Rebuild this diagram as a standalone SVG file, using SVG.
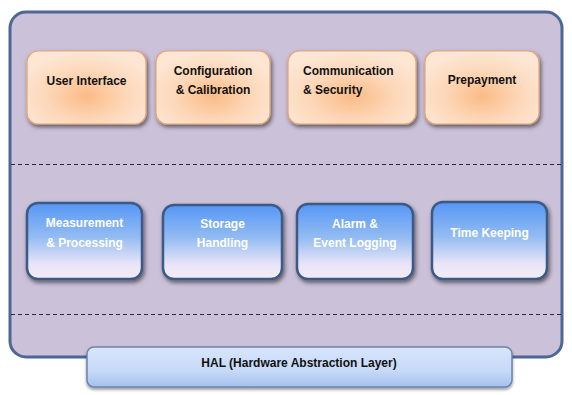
<svg xmlns="http://www.w3.org/2000/svg" width="572" height="395" viewBox="0 0 572 395">
<defs>
<radialGradient id="gOrange" cx="0.5" cy="0.62" r="0.6" fx="0.5" fy="0.62">
<stop offset="0" stop-color="#fbbb86"/>
<stop offset="0.55" stop-color="#fdd7b8"/>
<stop offset="1" stop-color="#fde6d3"/>
</radialGradient>
<linearGradient id="gBlue" x1="0" y1="0" x2="0" y2="1">
<stop offset="0" stop-color="#5596f5"/>
<stop offset="0.45" stop-color="#94bcf2"/>
<stop offset="0.8" stop-color="#e8e4f7"/>
<stop offset="1" stop-color="#f4ecf8"/>
</linearGradient>
<linearGradient id="gHal" x1="0" y1="0" x2="0" y2="1">
<stop offset="0" stop-color="#d8e6fc"/>
<stop offset="0.6" stop-color="#c6d9f8"/>
<stop offset="1" stop-color="#a6c1ee"/>
</linearGradient>
<filter id="shadow" x="-20%" y="-20%" width="140%" height="150%">
<feDropShadow dx="1.5" dy="2.5" stdDeviation="2" flood-color="#000" flood-opacity="0.55"/>
</filter>
<filter id="shadowS" x="-10%" y="-30%" width="120%" height="170%">
<feDropShadow dx="0" dy="2" stdDeviation="1.5" flood-color="#000" flood-opacity="0.4"/>
</filter>
</defs>
<style>
.orange{fill:url(#gOrange);stroke:#e4a477;stroke-width:1.2;filter:url(#shadow)}
.blue{fill:url(#gBlue);stroke:#3d5a86;stroke-width:2.5;filter:url(#shadow)}
.t{font-family:"Liberation Sans",Arial,sans-serif;font-size:12px;font-weight:bold;text-anchor:middle}
.dark{fill:#111}
.white{fill:#fff}
.dash{stroke:#2a2a2a;stroke-width:1;stroke-dasharray:4 3;fill:none}
</style>
<g id="container">
<rect x="10" y="12" width="552" height="345" rx="16" fill="#cbc1d9" stroke="#4d6795" stroke-width="3"/>
</g>
<g id="separators">
<line class="dash" x1="11" y1="164.5" x2="561" y2="164.5"/>
<line class="dash" x1="11" y1="314.5" x2="561" y2="314.5"/>
</g>
<g id="user-interface">
<rect class="orange" x="27" y="51" width="119" height="73" rx="11"/>
<text class="t dark" x="86.5" y="85">User Interface</text>
</g>
<g id="configuration-calibration">
<rect class="orange" x="156" y="51" width="114" height="73" rx="11"/>
<text class="t dark" x="213" y="75">Configuration</text>
<text class="t dark" x="213" y="94">&amp; Calibration</text>
</g>
<g id="communication-security">
<rect class="orange" x="288" y="51" width="128" height="73" rx="11"/>
<text class="t dark" x="303" y="75" style="text-anchor:start">Communication</text>
<text class="t dark" x="303" y="94" style="text-anchor:start">&amp; Security</text>
</g>
<g id="prepayment">
<rect class="orange" x="425" y="51" width="114" height="73" rx="11"/>
<text class="t dark" x="482" y="84">Prepayment</text>
</g>
<g id="measurement-processing">
<rect class="blue" x="27" y="203" width="115" height="76" rx="11"/>
<text class="t white" x="84.5" y="227">Measurement</text>
<text class="t white" x="84.5" y="247">&amp; Processing</text>
</g>
<g id="storage-handling">
<rect class="blue" x="163" y="205" width="119" height="74" rx="11"/>
<text class="t white" x="222.5" y="228">Storage</text>
<text class="t white" x="222.5" y="247">Handling</text>
</g>
<g id="alarm-event-logging">
<rect class="blue" x="297" y="204" width="116" height="75" rx="11"/>
<text class="t white" x="355" y="228">Alarm &amp;</text>
<text class="t white" x="355" y="247">Event Logging</text>
</g>
<g id="time-keeping">
<rect class="blue" x="432" y="202" width="115" height="77" rx="11"/>
<text class="t white" x="489.5" y="237">Time Keeping</text>
</g>
<g id="hal">
<rect x="87" y="347" width="425" height="40" rx="7" fill="url(#gHal)" stroke="#6b84ab" stroke-width="1.5" filter="url(#shadowS)"/>
<text class="t dark" x="299" y="367">HAL (Hardware Abstraction Layer)</text>
</g>
</svg>
